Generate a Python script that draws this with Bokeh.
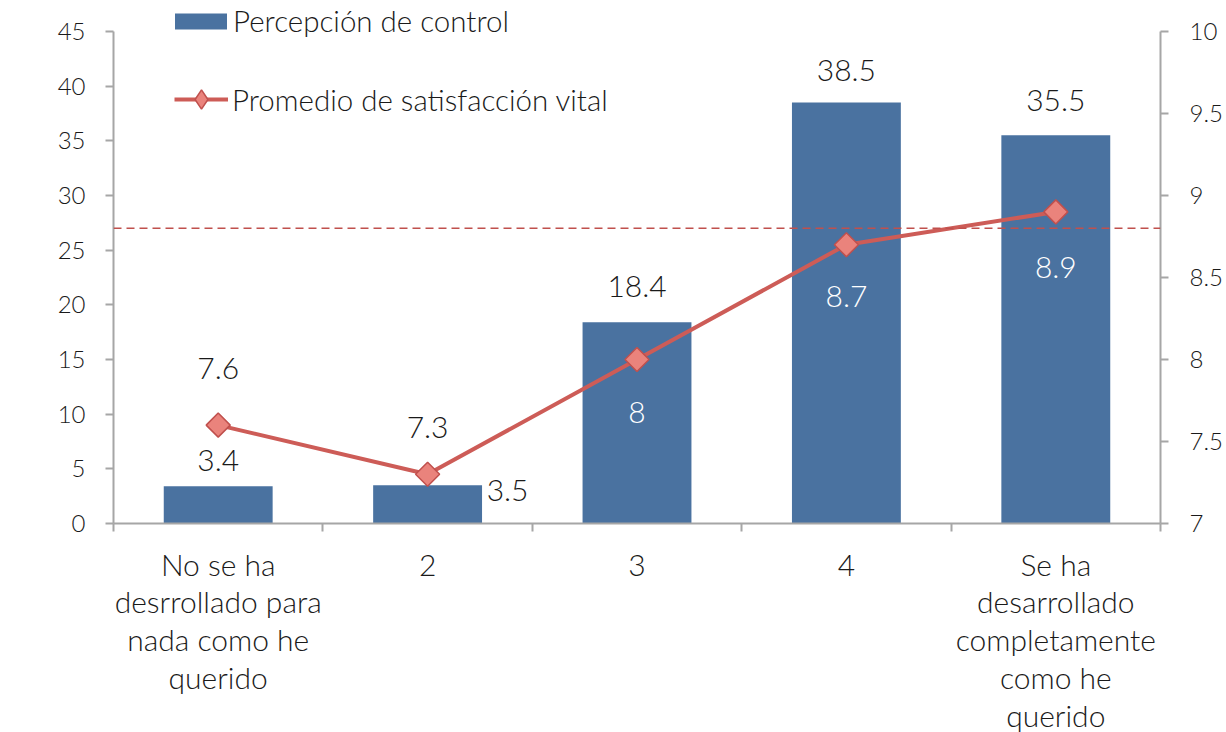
from bokeh.plotting import figure
from bokeh.models import (Range1d, LinearAxis, FixedTicker, ColumnDataSource,
                          Span, Legend, LegendItem)
from bokeh.core.properties import value
from bokeh.embed import file_html
from bokeh.resources import INLINE
import math

# ---------------- data ----------------
categories = ["No se ha\ndesrrollado para\nnada como he\nquerido", "2", "3", "4",
              "Se ha\ndesarrollado\ncompletamente\ncomo he\nquerido"]
control = [3.4, 3.5, 18.4, 38.5, 35.5]          # Percepción de control (left axis)
satisfaccion = [7.6, 7.3, 8.0, 8.7, 8.9]       # Promedio de satisfacción vital (right axis)
reference_level = 8.8                           # dashed reference line (right axis)
left_ticks = [0, 5, 10, 15, 20, 25, 30, 35, 40, 45]
right_ticks = [7, 7.5, 8, 8.5, 9, 9.5, 10]
left_bounds = (0, 45)
right_bounds = (7, 10)

# ---------------- styles ----------------
FONT = "Lato Light"
TXT = "#1a1a1a"
BAR = "#4A72A0"
LINE = "#CD5C57"
MFILL = "#EA837C"
MEDGE = "#C0504D"
AXIS = "#A6A6A6"

W, H = 1226, 732
LEFT, RIGHT, BOTTOM = 113, 66, 209
AXIS_TOP = 31                      # where the top tick sits (px from top)
FW = W - LEFT - RIGHT
FH = H - BOTTOM                    # frame reaches the top of the canvas
axis_h = FH - AXIS_TOP
ext = FH / axis_h                  # range stretch so that the top tick sits at AXIS_TOP

# label offsets (screen px) – style only
bar_lab_dx = [0, 80, 0, 0, 0]
bar_lab_dy = [-26, 5, -36, -32, -35]
line_lab_dy = [-57, -47, 53, 52, 56]
line_lab_col = [TXT, TXT, "white", "white", "white"]

n = len(categories)
xc = [i + 0.5 for i in range(n)]

lb0, lb1 = left_bounds
rb0, rb1 = right_bounds
p = figure(width=W, height=H, output_backend="svg", toolbar_location=None,
           x_range=Range1d(0, n), y_range=Range1d(lb0, lb0 + (lb1 - lb0) * ext),
           min_border_left=LEFT, min_border_right=RIGHT, min_border_top=0,
           min_border_bottom=BOTTOM, x_axis_location=None, y_axis_location=None)
p.frame_width = FW
p.frame_height = FH
p.outline_line_color = None
p.xgrid.visible = False
p.ygrid.visible = False
p.extra_y_ranges = {"right": Range1d(rb0, rb0 + (rb1 - rb0) * ext)}

def style_axis(ax, size):
    ax.axis_line_color = AXIS
    ax.axis_line_width = 2
    ax.major_tick_line_color = AXIS
    ax.major_tick_line_width = 2
    ax.minor_tick_line_color = AXIS
    ax.minor_tick_line_width = 2
    ax.major_tick_in = 0
    ax.major_tick_out = 8
    ax.minor_tick_in = 0
    ax.minor_tick_out = 0
    ax.major_label_text_font = FONT
    ax.major_label_text_font_size = size
    ax.major_label_text_color = TXT

yl = LinearAxis(ticker=FixedTicker(ticks=left_ticks), bounds=left_bounds)
style_axis(yl, "24px")
yl.major_label_standoff = 20
p.add_layout(yl, "left")

yr = LinearAxis(y_range_name="right", ticker=FixedTicker(ticks=right_ticks),
                bounds=right_bounds)
style_axis(yr, "24px")
yr.major_label_standoff = 21
yr.major_label_overrides = {t: f"{t:g}" for t in right_ticks}
p.add_layout(yr, "right")

xa = LinearAxis(ticker=FixedTicker(ticks=xc, minor_ticks=list(range(n + 1))))
style_axis(xa, "30px")
xa.major_tick_out = 0
xa.minor_tick_out = 8
xa.major_label_standoff = 14
xa.major_label_text_line_height = 1.05
xa.major_label_overrides = {x: c for x, c in zip(xc, categories)}
p.add_layout(xa, "below")

# bars
src_b = ColumnDataSource(dict(x=xc, top=control,
                              lab=[f"{v:g}" for v in control],
                              dx=bar_lab_dx, dy=bar_lab_dy))
bars = p.vbar(x="x", top="top", width=0.52, source=src_b, fill_color=BAR,
              line_color=None)

# reference dashed line
p.add_layout(Span(location=reference_level, dimension="width", y_range_name="right",
                  line_color=MEDGE, line_width=1.6, line_dash="8 5"))

# line + markers
src_l = ColumnDataSource(dict(x=xc, y=satisfaccion,
                              lab=[f"{v:g}" for v in satisfaccion],
                              dy=line_lab_dy, col=line_lab_col))
ln = p.line("x", "y", source=src_l, y_range_name="right", line_color=LINE,
            line_width=4)
mk = p.scatter("x", "y", source=src_l, y_range_name="right", marker="square",
               size=17, angle=math.pi / 4, fill_color=MFILL, line_color=MEDGE,
               line_width=1.5)
# legend proxy (not shown in plot; legend glyphs are never rotated)
mk_leg = p.scatter("x", "y", source=src_l, y_range_name="right", marker="diamond",
                   fill_color=MFILL, line_color=MEDGE, line_width=1.5, visible=False)

# data labels
p.text("x", "top", text="lab", source=src_b, x_offset="dx", y_offset="dy",
       text_align="center", text_baseline="middle", text_font=value(FONT),
       text_font_size="30px", text_color=TXT)
p.text("x", "y", text="lab", source=src_l, y_range_name="right", y_offset="dy",
       text_align="center", text_baseline="middle", text_font=value(FONT),
       text_font_size="30px", text_color="col")

def style_legend(lg):
    lg.padding = 0
    lg.margin = 0
    lg.border_line_alpha = 0
    lg.background_fill_alpha = 0
    lg.label_text_font = FONT
    lg.label_text_font_size = "29.5px"
    lg.label_text_color = TXT

leg1 = Legend(items=[LegendItem(label="Percepción de control", renderers=[bars])],
              location=(55, 485))
leg1.glyph_width = 65
leg1.glyph_height = 20
leg1.label_standoff = 0
style_legend(leg1)
p.add_layout(leg1, "center")

leg2 = Legend(items=[LegendItem(label="Promedio de satisfacción vital",
                                renderers=[ln, mk_leg])],
              location=(61, 400))
leg2.glyph_width = 54
leg2.glyph_height = 48
leg2.label_standoff = 4
style_legend(leg2)
p.add_layout(leg2, "center")

open("out.html", "w").write(file_html(p, INLINE))
